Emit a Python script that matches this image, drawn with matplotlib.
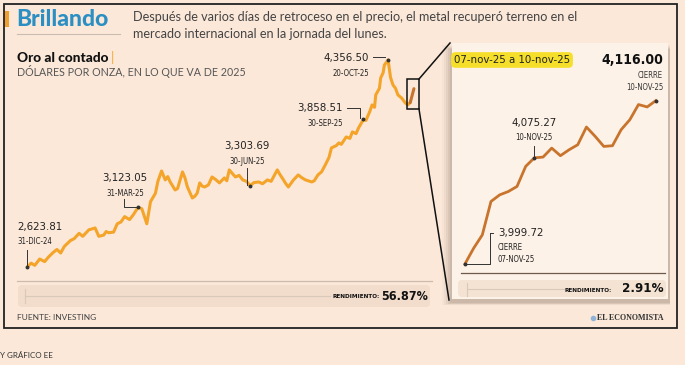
import numpy as np
import matplotlib.pyplot as plt
from matplotlib.patches import Rectangle, FancyBboxPatch

# precio del oro (dolares por onza)
fechas = ["2024-12-31", "2025-01-03", "2025-01-06", "2025-01-10", "2025-01-14",
          "2025-01-17", "2025-01-21", "2025-01-24", "2025-01-27", "2025-01-30",
          "2025-02-04", "2025-02-07", "2025-02-11", "2025-02-14", "2025-02-19",
          "2025-02-21", "2025-02-24", "2025-02-27", "2025-03-03", "2025-03-05",
          "2025-03-07", "2025-03-11", "2025-03-14", "2025-03-17", "2025-03-20",
          "2025-03-24", "2025-03-27", "2025-03-31", "2025-04-03", "2025-04-07",
          "2025-04-10", "2025-04-14", "2025-04-16", "2025-04-19", "2025-04-22",
          "2025-04-24", "2025-04-26", "2025-04-30", "2025-05-02", "2025-05-06",
          "2025-05-08", "2025-05-10", "2025-05-14", "2025-05-16", "2025-05-18",
          "2025-05-20", "2025-05-22", "2025-05-24", "2025-05-27", "2025-05-30",
          "2025-06-02", "2025-06-05", "2025-06-09", "2025-06-11", "2025-06-13",
          "2025-06-16", "2025-06-18", "2025-06-21", "2025-06-24", "2025-06-27",
          "2025-06-30", "2025-07-03", "2025-07-07", "2025-07-10", "2025-07-14",
          "2025-07-17", "2025-07-22", "2025-07-24", "2025-07-26", "2025-07-29",
          "2025-07-31", "2025-08-04", "2025-08-08", "2025-08-11", "2025-08-14",
          "2025-08-19", "2025-08-21", "2025-08-24", "2025-08-27", "2025-08-30",
          "2025-09-02", "2025-09-04", "2025-09-08", "2025-09-10", "2025-09-12",
          "2025-09-16", "2025-09-19", "2025-09-21", "2025-09-24", "2025-09-26",
          "2025-09-30", "2025-10-02", "2025-10-05", "2025-10-07", "2025-10-09",
          "2025-10-10", "2025-10-13", "2025-10-14", "2025-10-16", "2025-10-17",
          "2025-10-20", "2025-10-22", "2025-10-24", "2025-10-26", "2025-10-28",
          "2025-10-31", "2025-11-03", "2025-11-05", "2025-11-07", "2025-11-10"]
precios = [2623.81, 2655, 2637, 2690, 2668, 2705, 2745, 2770, 2740, 2795,
           2845, 2860, 2905, 2880, 2935, 2940, 2950, 2880, 2890, 2920,
           2910, 2915, 2985, 3000, 3045, 3020, 3060, 3123.05, 3110, 2985,
           3170, 3240, 3340, 3427, 3352, 3380, 3335, 3268, 3280, 3419,
           3370, 3293, 3201, 3215, 3243, 3327, 3300, 3293, 3310, 3377,
           3355, 3327, 3369, 3345, 3436, 3400, 3377, 3390, 3352, 3340,
           3303.69, 3330, 3335, 3320, 3352, 3340, 3436, 3400, 3369, 3320,
           3293, 3350, 3394, 3370, 3352, 3335, 3345, 3394, 3420, 3478,
           3540, 3620, 3640, 3662, 3650, 3712, 3700, 3754, 3740, 3787,
           3858.51, 3850, 3921, 3980, 3960, 4064, 4120, 4206, 4250, 4314,
           4356.50, 4210, 4147, 4120, 4064, 4038, 3997, 3980, 3999.72, 4116.00]

# detalle del 07-nov al 10-nov
detalle = [3999.72, 4010.9, 4020.4, 4044.2, 4048.9, 4051.3, 4054.9, 4069.2,
           4075.27, 4075.8, 4082.2, 4076.8, 4081.0, 4084.6, 4097.2, 4090.6,
           4083.4, 4083.9, 4095.3, 4102.4, 4113.2, 4111.5, 4116.00]

marcas = ["2024-12-31", "2025-03-31", "2025-06-30", "2025-09-30", "2025-10-20"]

fechas = np.array(fechas, dtype="datetime64[D]")
marcas = np.array(marcas, dtype="datetime64[D]")

FONDO = "#fbe8d9"
NARANJA = "#f5a42a"
CAFE = "#c8742d"
NUM = ["DejaVu Sans"]
TXT = ["Lato", "DejaVu Sans"]

W, H = 685, 365
fig = plt.figure(figsize=(W / 100, H / 100), dpi=100, facecolor=FONDO)


def px_axes(l, t, r, b, **kw):
    return fig.add_axes([l / W, 1 - b / H, (r - l) / W, (b - t) / H], **kw)


# fondo y paneles
bg = px_axes(0, 0, W, H, zorder=0)
bg.set_xlim(0, W)
bg.set_ylim(H, 0)
bg.axis("off")
bg.add_patch(Rectangle((4, 4), 673, 324, fill=False, lw=1.3, ec="#222222"))
# sombra del panel de detalle
for i, a in enumerate([0.03, 0.05, 0.07, 0.09, 0.11]):
    bg.add_patch(Rectangle((442 + i * 2, 45 + i), 228 - i * 2, 260 - i * 1.5,
                           fc="#6b5040", ec="none", alpha=a))
bg.add_patch(Rectangle((452, 43), 216, 256, fc="#fdf2e8", ec="none"))
# bandas de rendimiento
bg.add_patch(FancyBboxPatch((18, 285), 412, 22, boxstyle="round,pad=0,rounding_size=4",
                            fc="#f2dccb", ec="none"))
bg.add_patch(FancyBboxPatch((458, 280), 208, 17, boxstyle="round,pad=0,rounding_size=4",
                            fc="#f4e2d3", ec="none"))

# grafica principal
ax = px_axes(20, 50, 425, 275, zorder=1)
ax.patch.set_alpha(0)
ax.plot(fechas[:-1], precios[:-1], color=NARANJA, lw=2.2, solid_joinstyle="round",
        solid_capstyle="round")
ax.plot(fechas[-2:], precios[-2:], color=CAFE, lw=2.2, solid_capstyle="round")
ax.plot(marcas, [precios[list(fechas).index(m)] for m in marcas], "o", ms=1.8,
        color="#333333")
ax.set_xlim(np.datetime64("2024-12-25"), np.datetime64("2025-11-19"))
ax.set_ylim(2556, 4440)
ax.axis("off")

# grafica de detalle
ix = px_axes(458, 95, 668, 272, zorder=1)
ix.patch.set_alpha(0)
ix.plot(range(len(detalle)), detalle, color=CAFE, lw=2.0, solid_joinstyle="round")
ix.plot([0, 8, len(detalle) - 1], [detalle[0], detalle[8], detalle[-1]], "o", ms=1.8,
        color="#333333")
ix.set_xlim(-0.8, 23.4)
ix.set_ylim(3994, 4120)
ix.axis("off")

# textos y lineas guia
ov = px_axes(0, 0, W, H, zorder=3)
ov.patch.set_alpha(0)
ov.set_xlim(0, W)
ov.set_ylim(H, 0)
ov.axis("off")

ov.add_patch(Rectangle((5, 11), 4, 16, fc="#f0a030", ec="none"))
ov.text(16, 20, "Brillando", fontsize=16.5, fontweight="black", color="#2b8fc3",
        family=TXT, va="center")
ov.plot([17, 120], [34, 34], color="#c9bdb2", lw=0.8)
ov.text(133, 17, "Después de varios días de retroceso en el precio, el metal recuperó terreno en el",
        fontsize=9.1, color="#444444", family=TXT, va="center")
ov.text(133, 34, "mercado internacional en la jornada del lunes.",
        fontsize=9.1, color="#444444", family=TXT, va="center")
ov.text(17, 58, "Oro al contado", fontsize=9.8, fontweight="black", color="#111111",
        family=TXT, va="center")
ov.text(111, 58, "|", fontsize=9.5, color=NARANJA, family=TXT, va="center")
ov.text(17, 72, "DÓLARES POR ONZA, EN LO QUE VA DE 2025", fontsize=7.7, color="#555555",
        family=TXT, va="center")


def etiqueta(x, y, valor, fecha, ha="left", extra=None):
    ov.text(x, y, valor, fontsize=8.2, color="#222222", family=NUM, stretch="condensed",
            ha=ha, va="center")
    ov.text(x, y + 15, fecha, fontsize=5.6, color="#222222", family=NUM,
            stretch="condensed", ha=ha, va="center")
    if extra:
        ov.text(x, y + 27, extra, fontsize=5.6, color="#222222", family=NUM,
                stretch="condensed", ha=ha, va="center")


etiqueta(17, 227, "2,623.81", "31-DIC-24")
ov.plot([27, 27], [250, 266], color="#333333", lw=0.7)
etiqueta(125, 178, "3,123.05", "31-MAR-25", ha="center")
ov.plot([124, 124, 136], [199, 207, 207], color="#333333", lw=0.7)
etiqueta(247, 146, "3,303.69", "30-JUN-25", ha="center")
ov.plot([247, 247], [168, 185], color="#333333", lw=0.7)
etiqueta(343, 108, "3,858.51", "30-SEP-25", ha="right")
ov.plot([347, 360, 360], [108, 108, 118], color="#333333", lw=0.7)
etiqueta(369, 58, "4,356.50", "20-OCT-25", ha="right")
ov.plot([373, 385], [57, 57], color="#333333", lw=0.7)

# recuadro de acercamiento
ov.add_patch(Rectangle((407, 79), 12, 30, fill=False, ec="#111111", lw=1.1))
ov.plot([419, 450], [79, 43], color="#111111", lw=1.1)
ov.plot([419, 449], [109, 300], color="#111111", lw=1.1)

# textos del detalle
ov.text(512, 60, "07-nov-25 a 10-nov-25", fontsize=8.2, color="#222222", family=NUM,
        stretch="condensed", ha="center", va="center",
        bbox=dict(boxstyle="round,pad=0.25,rounding_size=0.4", fc="#f6df2a", ec="none"))
ov.text(663, 60, "4,116.00", fontsize=10, fontweight="bold", color="#111111",
        family=NUM, stretch="condensed", ha="right", va="center")
ov.text(663, 75, "CIERRE", fontsize=5.6, color="#333333", family=NUM,
        stretch="condensed", ha="right", va="center")
ov.text(663, 88, "10-NOV-25", fontsize=5.6, color="#333333", family=NUM,
        stretch="condensed", ha="right", va="center")
etiqueta(534, 123, "4,075.27", "10-NOV-25", ha="center")
ov.plot([534, 534], [146, 157], color="#333333", lw=0.7)
etiqueta(498, 233, "3,999.72", "CIERRE", extra="07-NOV-25")
ov.plot([490, 493], [233, 233], color="#333333", lw=0.7)
ov.plot([490, 490, 466], [233, 264, 264], color="#333333", lw=0.7)

# separadores y rendimientos
ov.plot([17, 432], [281, 281], color="#cdbcad", lw=0.9)
ov.plot([25, 330], [296, 296], color="#d9c9ba", lw=0.8)
ov.plot([25, 25], [289, 303], color="#d9c9ba", lw=0.8)
ov.text(380, 297, "RENDIMIENTO:", fontsize=4.6, fontweight="bold", color="#111111",
        family=NUM, stretch="condensed", ha="right", va="center")
ov.text(428, 296, "56.87%", fontsize=9, fontweight="bold", color="#111111",
        family=NUM, stretch="condensed", ha="right", va="center")
ov.plot([461, 665], [273, 273], color="#6d5a4b", lw=0.9)
ov.plot([467, 565], [289, 289], color="#d9c9ba", lw=0.8)
ov.plot([467, 467], [283, 296], color="#d9c9ba", lw=0.8)
ov.text(612, 290, "RENDIMIENTO:", fontsize=4.6, fontweight="bold", color="#111111",
        family=NUM, stretch="condensed", ha="right", va="center")
ov.text(664, 289, "2.91%", fontsize=9.5, fontweight="bold", color="#111111",
        family=NUM, stretch="condensed", ha="right", va="center")

# pie
ov.text(17, 318, "FUENTE: INVESTING", fontsize=6, color="#444444", family=TXT,
        va="center")
ov.plot([593], [318], "o", ms=3, color="#8fb4d8")
ov.text(664, 318, "EL ECONOMISTA", fontsize=5.8, fontweight="bold", color="#333333",
        family="Liberation Serif", ha="right", va="center")
ov.text(0, 355, "Y GRÁFICO EE", fontsize=5.8, color="#333333", family=TXT, va="center")

fig.savefig("out.png", dpi=100, facecolor=FONDO)
